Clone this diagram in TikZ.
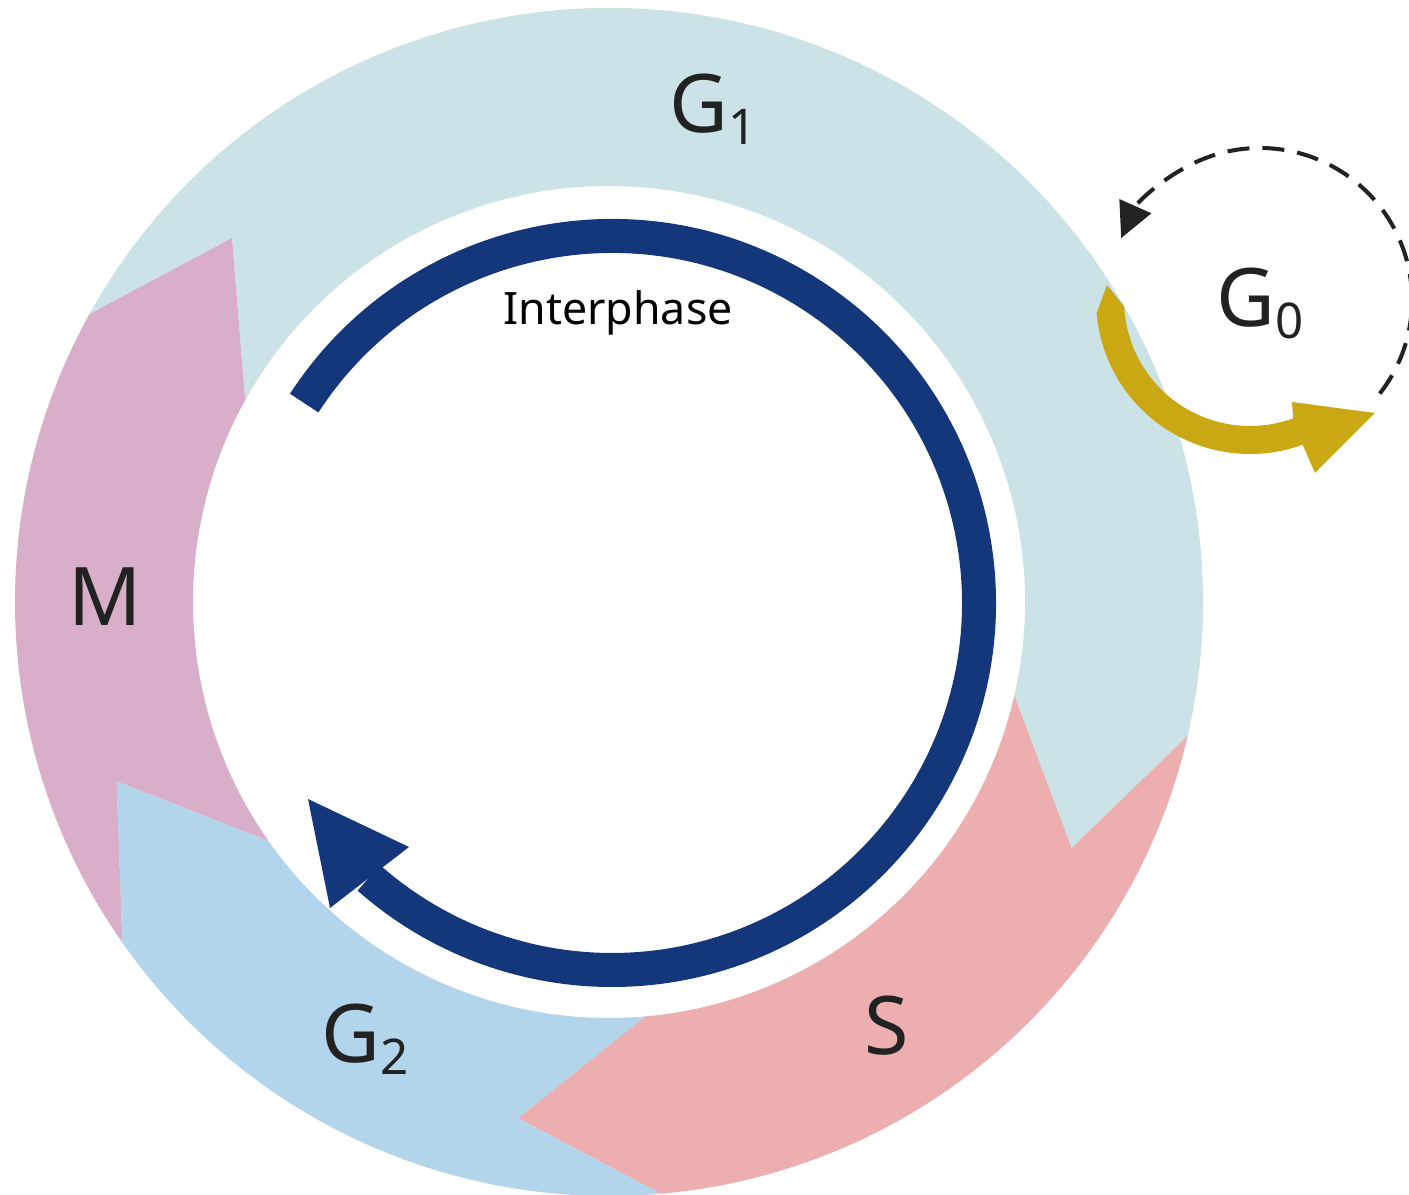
\documentclass[tikz,border=0pt]{standalone}
\usepackage{fontspec}
\setmainfont{Noto Sans}
\usetikzlibrary{arrows.meta}
\definecolor{gonecol}{HTML}{CBE3E6}
\definecolor{mcol}{HTML}{D8AEC9}
\definecolor{gtwocol}{HTML}{B3D5EC}
\definecolor{scol}{HTML}{ECAEAE}
\definecolor{navycol}{HTML}{14367A}
\definecolor{goldcol}{HTML}{C9A814}
\definecolor{inkcol}{HTML}{222222}
\newcommand\phlbl[2]{#1\raisebox{-0.12cm}{\fontsize{14}{14}\selectfont #2}}
\begin{document}
\begin{tikzpicture}[x=0.01cm,y=0.01cm,
  phase/.style={font=\fontsize{23}{23}\selectfont, text=inkcol, inner sep=0pt, anchor=base},
  navyline/.style={draw=navycol, line width=0.34cm},
  dashloop/.style={draw=inkcol, line width=1.15pt, dash pattern=on 0.22cm off 0.13cm,
    -{Triangle[length=0.35cm,width=0.34cm]}}]
\useasboundingbox (-609,-593) rectangle (800,602);
\clip (-609,-593) rectangle (800,602);
% ring segments
\fill[gonecol] (151:594) arc[start angle=151, end angle=-13, radius=594] -- (-28:524)
  -- (-13:416) arc[start angle=-13, end angle=151, radius=416] -- (136:524) -- cycle;
\fill[scol] (-13:594) arc[start angle=-13, end angle=-85, radius=594] -- (-100:524)
  -- (-85:416) arc[start angle=-85, end angle=-13, radius=416] -- (-28:524) -- cycle;
\fill[gtwocol] (-85:594) arc[start angle=-85, end angle=-145, radius=594] -- (-160:524)
  -- (-145:416) arc[start angle=-145, end angle=-85, radius=416] -- (-100:524) -- cycle;
\fill[mcol] (-145:594) arc[start angle=-145, end angle=-209, radius=594] -- (-224:524)
  -- (-209:416) arc[start angle=-209, end angle=-145, radius=416] -- (-160:524) -- cycle;
% interphase arrow
\begin{scope}[shift={(3,-1)}]
  \draw[navyline] (147:367) arc[start angle=147, end angle=-131.5, radius=367];
  \fill[navycol] (-304,-196) -- (-203,-244) -- (-282,-305) -- cycle;
\end{scope}
% G0 loop
\begin{scope}[shift={(651,302)}]
  \draw[dashloop] (-38:152) arc[start angle=-38, end angle=156, radius=152];
\end{scope}
\begin{scope}[shift={(641,302)}]
  \fill[goldcol] (-143,15) -- (185:154) arc[start angle=185, end angle=290, radius=154]
    -- (65,-173) -- (125,-113) -- (42,-102)
    -- (290:126) arc[start angle=290, end angle=183, radius=126] -- cycle;
\end{scope}
% labels
\node[phase] (gone) at (104.5,469) {\phlbl{G}{1}};
\node[phase] (gzero) at (651.5,275) {\phlbl{G}{0}};
\node[phase] (gtwo) at (-244,-461) {\phlbl{G}{2}};
\node[phase] (mph) at (-504,-24) {M};
\node[phase] (sph) at (278,-453) {S};
\node[font=\fontsize{12.7}{12.7}\selectfont, text=black, inner sep=0pt, anchor=base] (inter) at (9,277) {Interphase};
\end{tikzpicture}
\end{document}
